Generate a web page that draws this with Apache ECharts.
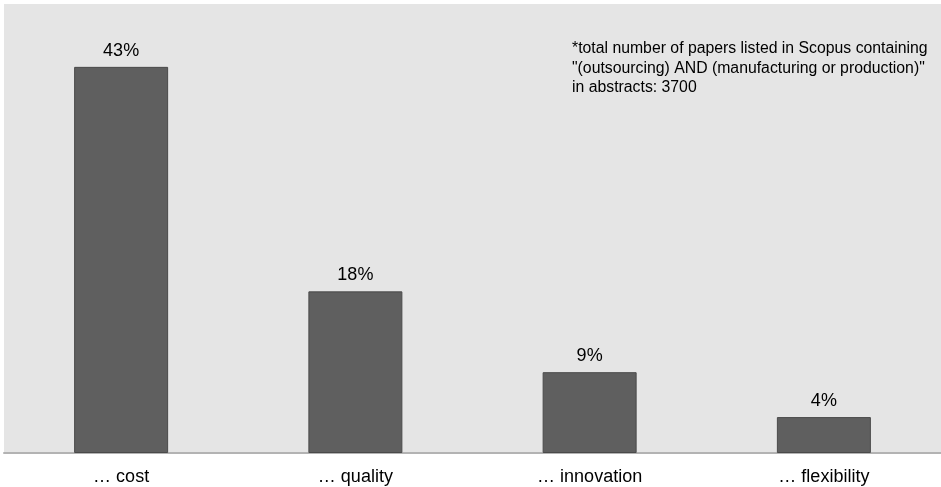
<!DOCTYPE html>
<html>
<head>
<meta charset="utf-8">
<script src="https://cdn.jsdelivr.net/npm/echarts@6/dist/echarts.min.js"></script>
<style>
  html, body { margin: 0; padding: 0; background: #ffffff; }
  #chart { width: 941px; height: 487px; }
</style>
</head>
<body>
<div id="chart"></div>
<script>
// Reasons for outsourcing named in papers, share of all papers (%)
const categories = ['… cost', '… quality', '… innovation', '… flexibility'];
const shares = [43, 18, 9, 4];
const note = '*total number of papers listed in Scopus containing\n"(outsourcing) AND (manufacturing or production)"\nin abstracts: 3700';

const chart = echarts.init(document.getElementById('chart'));
chart.setOption({
  animation: false,
  grid: {
    left: 4, top: 4, width: 937, height: 449,
    show: true, backgroundColor: '#e5e5e5', borderWidth: 0
  },
  xAxis: {
    type: 'category',
    data: categories,
    axisLine: { show: true, lineStyle: { color: '#b3b3b3', width: 2 } },
    axisTick: { show: false },
    axisLabel: {
      color: '#000000', fontFamily: 'Liberation Sans, Arial, sans-serif',
      fontSize: 18, margin: 15
    }
  },
  yAxis: {
    type: 'value', min: 0, max: 50,
    show: false, splitLine: { show: false }
  },
  series: [{
    type: 'bar',
    data: shares,
    barWidth: 94,
    itemStyle: { color: '#5f5f5f', borderColor: '#4a4a4a', borderWidth: 1 },
    label: {
      show: true, position: 'top', distance: 7,
      formatter: '{c}%', color: '#000000',
      fontFamily: 'Liberation Sans, Arial, sans-serif', fontSize: 18
    }
  }],
  graphic: [{
    type: 'text', left: 572, top: 39,
    style: {
      text: note, fill: '#000000',
      font: '15.8px "Liberation Sans", Arial, sans-serif', lineHeight: 19.5
    }
  }]
});
</script>
</body>
</html>
